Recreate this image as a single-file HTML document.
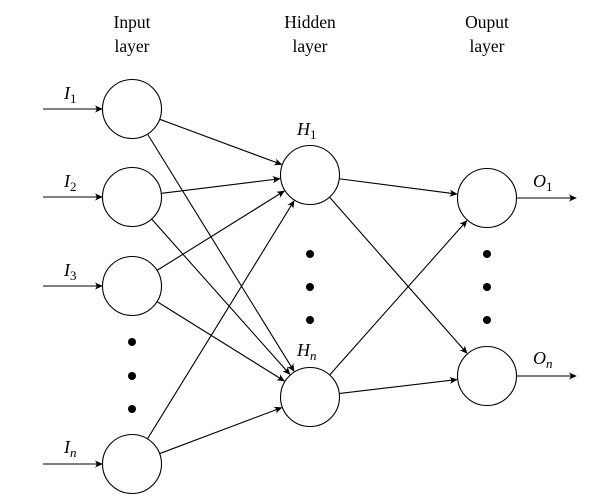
<!DOCTYPE html>
<html><head><meta charset="utf-8">
<style>
html,body{margin:0;padding:0;background:#fff;}
svg{display:block;}
text{font-family:"Liberation Serif",serif;fill:#000;}
.it{font-style:italic;}
</style></head>
<body>
<svg id="s" width="613" height="501" viewBox="0 0 613 501" xmlns="http://www.w3.org/2000/svg">
<defs>
<marker id="a" viewBox="0 0 10 10" refX="9" refY="5" markerWidth="9" markerHeight="9" markerUnits="userSpaceOnUse" orient="auto">
<path d="M1,1 Q5,5 1,9 L10,5 Z" fill="#000"/>
</marker>
</defs>
<g font-size="17.5" text-anchor="middle">
<text x="132" y="28">Input</text><text x="132" y="52">layer</text>
<text x="310" y="28">Hidden</text><text x="310" y="52">layer</text>
<text x="487" y="28">Ouput</text><text x="487" y="52">layer</text>
</g>
<g fill="none" stroke="#000" stroke-width="1.1">
<circle cx="132" cy="109" r="29.5"/>
<circle cx="132" cy="197" r="29.5"/>
<circle cx="132" cy="286" r="29.5"/>
<circle cx="132" cy="464" r="29.5"/>
<circle cx="310" cy="175" r="29.5"/>
<circle cx="310" cy="397" r="29.5"/>
<circle cx="487" cy="198" r="29.5"/>
<circle cx="487" cy="376" r="29.5"/>
</g>
<g fill="#000">
<circle cx="132" cy="342" r="4"/><circle cx="132" cy="376" r="4"/><circle cx="132" cy="409" r="4"/>
<circle cx="310" cy="254" r="4"/><circle cx="310" cy="287" r="4"/><circle cx="310" cy="320" r="4"/>
<circle cx="487" cy="254" r="4"/><circle cx="487" cy="287" r="4"/><circle cx="487" cy="320" r="4"/>
</g>
<g stroke="#000" stroke-width="1.1" marker-end="url(#a)">
<line x1="43" y1="109" x2="102" y2="109"/>
<line x1="43" y1="197" x2="102" y2="197"/>
<line x1="43" y1="286" x2="102" y2="286"/>
<line x1="43" y1="464" x2="102" y2="464"/>
<line x1="517" y1="198" x2="576" y2="198"/>
<line x1="517" y1="376" x2="576" y2="376"/>
</g>
<g id="e" stroke="#000" stroke-width="1.1"></g>
<g font-size="18" class="it">
<text x="64" y="99" class="it">I<tspan font-size="13" dy="4" font-style="normal">1</tspan></text>
<text x="64" y="187" class="it">I<tspan font-size="13" dy="4" font-style="normal">2</tspan></text>
<text x="64" y="276" class="it">I<tspan font-size="13" dy="4" font-style="normal">3</tspan></text>
<text x="64" y="453" class="it">I<tspan font-size="13" dy="4">n</tspan></text>
<text x="297" y="135" class="it">H<tspan font-size="13" dy="4" font-style="normal">1</tspan></text>
<text x="297" y="356" class="it">H<tspan font-size="13" dy="4">n</tspan></text>
<text x="533" y="187" class="it">O<tspan font-size="13" dy="4" font-style="normal">1</tspan></text>
<text x="533" y="364" class="it">O<tspan font-size="13" dy="4">n</tspan></text>
</g>
</svg>
<script>
var N={I1:[132,109],I2:[132,197],I3:[132,286],In:[132,464],H1:[310,175],Hn:[310,397],O1:[487,198],On:[487,376]};
var E=[["I1","H1"],["I1","Hn"],["I2","H1"],["I2","Hn"],["I3","H1"],["I3","Hn"],["In","H1"],["In","Hn"],["H1","O1"],["H1","On"],["Hn","O1"],["Hn","On"]];
var g=document.getElementById("e"),r=30;
E.forEach(function(p){var a=N[p[0]],b=N[p[1]],dx=b[0]-a[0],dy=b[1]-a[1],d=Math.hypot(dx,dy),ux=dx/d,uy=dy/d;
var l=document.createElementNS("http://www.w3.org/2000/svg","line");
l.setAttribute("x1",a[0]+ux*r);l.setAttribute("y1",a[1]+uy*r);
l.setAttribute("x2",b[0]-ux*(r+0.5));l.setAttribute("y2",b[1]-uy*(r+0.5));
l.setAttribute("marker-end","url(#a)");g.appendChild(l);});
</script>
</body></html>
